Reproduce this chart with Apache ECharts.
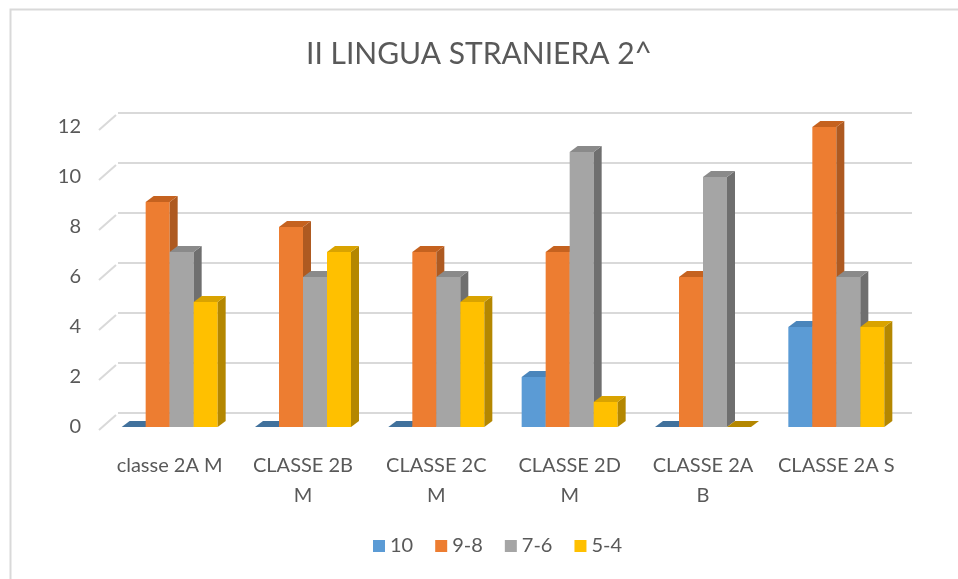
<!DOCTYPE html>
<html>
<head>
<meta charset="utf-8">
<script src="https://cdn.jsdelivr.net/npm/echarts@6/dist/echarts.min.js"></script>
<style>
  html, body { margin: 0; padding: 0; background: #fff; }
  #chart { width: 958px; height: 579px; }
</style>
</head>
<body>
<div id="chart"></div>
<script>
// dati
var categorie = ['classe 2A M', 'CLASSE 2B\nM', 'CLASSE 2C\nM', 'CLASSE 2D\nM', 'CLASSE 2A\nB', 'CLASSE 2A S'];
var nomiSerie = ['10', '9-8', '7-6', '5-4'];
var voto10 = [0, 0, 0, 2, 0, 4];
var voto98 = [9, 8, 7, 7, 6, 12];
var voto76 = [7, 6, 6, 11, 10, 6];
var voto54 = [5, 7, 5, 1, 0, 4];
var tickValori = [0, 2, 4, 6, 8, 10, 12];

var valori = [voto10, voto98, voto76, voto54];
var colori = ['#5b9bd5', '#ed7d31', '#a5a5a5', '#ffc000'];
var coloriLato = ['#41719c', '#ae5a21', '#6f6f6f', '#b48700'];
var coloriSopra = ['#4a85bb', '#c5621f', '#8a8a8a', '#d9a300'];

var barW = 24, dx = 8, dy = 6;
var fontFam = 'Lato, "Open Sans", sans-serif';

function barre(idx) {
  return function (params, api) {
    var cat = api.value(0), v = api.value(1);
    var base = api.coord([cat, 0]);
    var top = api.coord([cat, v]);
    var x0 = base[0] - 2 * barW + idx * barW;
    var x1 = x0 + barW;
    var yb = base[1], yt = top[1];
    var kids = [];
    if (v > 0) {
      kids.push({ type: 'rect', shape: { x: x0, y: yt, width: barW, height: yb - yt },
        style: { fill: colori[idx] } });
      kids.push({ type: 'polygon', shape: { points: [[x1, yt], [x1 + dx, yt - dy], [x1 + dx, yb - dy], [x1, yb]] },
        style: { fill: coloriLato[idx] } });
    }
    kids.push({ type: 'polygon', shape: { points: [[x0, yt], [x0 + dx, yt - dy], [x1 + dx, yt - dy], [x1, yt]] },
      style: { fill: v > 0 ? coloriSopra[idx] : coloriLato[idx] } });
    return { type: 'group', children: kids };
  };
}

var serie = [];
// diagonali della griglia (pavimento/parete sinistra)
serie.push({
  type: 'custom', xAxisIndex: 0, yAxisIndex: 0, silent: true, z: 1,
  data: tickValori.map(function (t) { return [0, t]; }),
  renderItem: function (params, api) {
    var p = api.coord([0, api.value(1)]);
    var xl = params.coordSys.x;
    return { type: 'line', shape: { x1: xl - 4, y1: p[1] + 3, x2: xl + 13, y2: p[1] - 12 },
      style: { stroke: '#d9d9d9', lineWidth: 2 } };
  }
});
for (var i = 0; i < 4; i++) {
  serie.push({
    type: 'custom', name: nomiSerie[i], xAxisIndex: 0, yAxisIndex: 0, z: 3,
    itemStyle: { color: colori[i] },
    data: valori[i].map(function (v, k) { return [k, v]; }),
    renderItem: barre(i)
  });
}

var chart = echarts.init(document.getElementById('chart'));
chart.setOption({
  backgroundColor: '#fff',
  animation: false,
  graphic: [{
    type: 'rect', left: 8, top: 7, shape: { width: 1000, height: 600 },
    style: { fill: 'none', stroke: '#d9d9d9', lineWidth: 2 }, z: -1
  }],
  title: {
    text: 'II LINGUA STRANIERA 2^', left: 'center', top: 34,
    textStyle: { fontFamily: fontFam, fontSize: 30, fontWeight: 'normal', color: '#595959' }
  },
  legend: {
    data: nomiSerie, bottom: 18, left: 368, icon: 'rect',
    itemWidth: 12, itemHeight: 12, itemGap: 22,
    textStyle: { fontFamily: fontFam, fontSize: 20, color: '#595959' }
  },
  grid: [
    { left: 103, right: 55, top: 127, bottom: 152 },
    { left: 118, right: 46, top: 113, bottom: 166 }
  ],
  xAxis: [
    { type: 'category', gridIndex: 0, data: categorie,
      axisLine: { show: false }, axisTick: { show: false },
      axisLabel: { fontFamily: fontFam, fontSize: 20, color: '#595959', margin: 24, lineHeight: 30, interval: 0 } },
    { type: 'category', gridIndex: 1, data: categorie, show: false }
  ],
  yAxis: [
    { type: 'value', gridIndex: 0, min: 0, max: 12, interval: 2,
      axisLine: { show: false }, axisTick: { show: false }, splitLine: { show: false },
      axisLabel: { fontFamily: fontFam, fontSize: 20, color: '#595959', margin: 22 } },
    { type: 'value', gridIndex: 1, min: 0, max: 12, interval: 2,
      axisLine: { show: false }, axisTick: { show: false }, axisLabel: { show: false },
      splitLine: { lineStyle: { color: '#d9d9d9', width: 2 } } }
  ],
  series: serie
});
</script>
</body>
</html>
